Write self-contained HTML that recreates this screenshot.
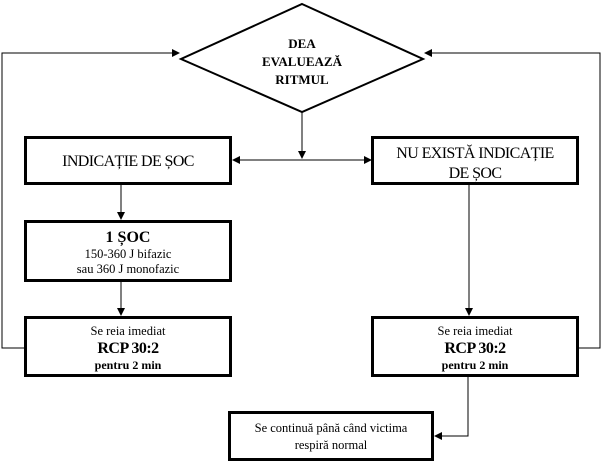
<!DOCTYPE html>
<html><head><meta charset="utf-8"><style>
html,body{margin:0;padding:0;background:#fff;}
svg{display:block;}
text{font-family:"Liberation Serif",serif;fill:#000;}
</style></head><body>
<svg width="602" height="465" viewBox="0 0 602 465" xmlns="http://www.w3.org/2000/svg">
<defs><marker id="a" markerWidth="8" markerHeight="8" refX="7" refY="4" orient="auto" markerUnits="userSpaceOnUse"><path d="M0,0 L8,4 L0,8 z" fill="#000"/></marker></defs>
<g fill="none" stroke="#000" stroke-width="1">
<polygon points="302,4 423,59 302,112 181,59" stroke-width="2"/>
<polyline points="24,348 2,348 2,53 179,53" marker-end="url(#a)"/>
<polyline points="578,348 600,348 600,53 425,53" marker-end="url(#a)"/>
<line x1="302" y1="112" x2="302" y2="158" marker-end="url(#a)"/>
<line x1="302" y1="160" x2="233" y2="160" marker-end="url(#a)"/>
<line x1="302" y1="160" x2="371" y2="160" marker-end="url(#a)"/>
<line x1="121" y1="185" x2="121" y2="219" marker-end="url(#a)"/>
<line x1="121" y1="282" x2="121" y2="315" marker-end="url(#a)"/>
<line x1="469" y1="185" x2="469" y2="315" marker-end="url(#a)"/>
<polyline points="468,377 468,436 435,436" marker-end="url(#a)"/>
</g>
<g fill="#fff" stroke="#000" stroke-width="3">
<rect x="25.5" y="137.5" width="205" height="46"/>
<rect x="372.5" y="137.5" width="205" height="46"/>
<rect x="25.5" y="221.5" width="205" height="59"/>
<rect x="25.5" y="317.5" width="205" height="58"/>
<rect x="372.5" y="317.5" width="205" height="58"/>
<rect x="229.5" y="412.5" width="203" height="47"/>
</g>
<g text-anchor="middle" font-weight="bold" font-size="13">
<text x="302" y="48">DEA</text>
<text x="302" y="66">EVALUEAZĂ</text>
<text x="302" y="84">RITMUL</text>
</g>
<text x="128" y="166" text-anchor="middle" font-size="16" letter-spacing="-0.6">INDICAȚIE DE ȘOC</text>
<text x="475" y="158" text-anchor="middle" font-size="16" letter-spacing="-0.6">NU EXISTĂ INDICAȚIE</text>
<text x="475" y="178" text-anchor="middle" font-size="16" letter-spacing="-0.6">DE ȘOC</text>
<text x="128" y="242" text-anchor="middle" font-size="16" font-weight="bold">1 ȘOC</text>
<text x="128" y="258" text-anchor="middle" font-size="12.5">150-360 J bifazic</text>
<text x="128" y="273" text-anchor="middle" font-size="12.5">sau 360 J monofazic</text>
<text x="128" y="335" text-anchor="middle" font-size="12.5">Se reia imediat</text>
<text x="128" y="353" text-anchor="middle" font-size="16" font-weight="bold" letter-spacing="-0.5">RCP 30:2</text>
<text x="128" y="369" text-anchor="middle" font-size="12" font-weight="bold">pentru 2 min</text>
<text x="475" y="335" text-anchor="middle" font-size="12.5">Se reia imediat</text>
<text x="475" y="353" text-anchor="middle" font-size="16" font-weight="bold" letter-spacing="-0.5">RCP 30:2</text>
<text x="475" y="369" text-anchor="middle" font-size="12" font-weight="bold">pentru 2 min</text>
<text x="331" y="432" text-anchor="middle" font-size="12.5">Se continuă până când victima</text>
<text x="331" y="449" text-anchor="middle" font-size="12.5">respiră normal</text>
</svg>
</body></html>
